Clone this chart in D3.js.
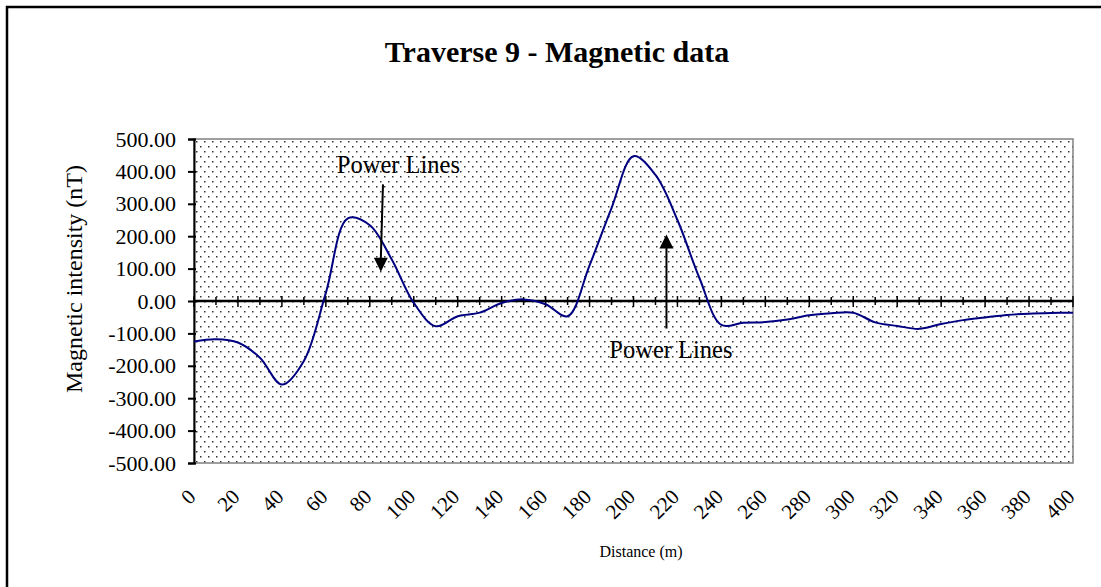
<!DOCTYPE html>
<html>
<head>
<meta charset="utf-8">
<script src="https://cdn.jsdelivr.net/npm/d3@7"></script>
<style>
  body { margin: 0; background: #fff; }
  svg text { font-family: "Liberation Serif", "Times New Roman", serif; fill: #000; }
</style>
</head>
<body>
<svg id="chart" width="1101" height="587"></svg>
<script>
// distance along traverse (m) and magnetic intensity (nT)
let distance = [0, 10, 20, 30, 40, 50, 60, 70, 80, 90, 100, 110, 120, 130, 140, 150, 160, 170, 180, 190, 200,
  210, 220, 230, 240, 250, 260, 270, 280, 290, 300, 310, 320, 330, 340, 350, 360, 370, 380, 390, 400];
let intensity = [-125, -118, -128, -175, -258, -185, 25, 255, 234, 128, -6, -78, -47, -36, -6, 5, -10, -47, 110, 287, 447,
  389, 250, 71, -74, -67, -65, -57, -44, -38, -36, -66, -77, -86, -71, -59, -51, -43, -39, -37, -36];
let yTicks = [-500, -400, -300, -200, -100, 0, 100, 200, 300, 400, 500];
let xTicks = d3.range(0, 401, 20);
let xMinorTicks = d3.range(0, 401, 10);

// two "Power Lines" notes: where the arrow points (distance, nT) and where its tail is
let notes = [
  { label: "Power Lines", tip: [85, 90], tail: [86, 360], text: [65, 395], dir: "down" },
  { label: "Power Lines", tip: [215, 205], tail: [215, -85], text: [189, -175], dir: "up" }
];

let svg = d3.select("svg#chart");

// outer chart frame (right/bottom edges fall outside the picture)
svg.append("rect")
.attr("x", 7).attr("y", 7)
.attr("width", 1200).attr("height", 700)
.attr("fill", "none")
.attr("stroke", "#000")
.attr("stroke-width", 2.5);

var x = d3.scaleLinear().domain([0, 400]).range([194, 1073]);
var y = d3.scaleLinear().domain([-500, 500]).range([463, 139]);

// dotted plot background
var defs = svg.append("defs");
var pat = defs.append("pattern")
.attr("id", "dots")
.attr("patternUnits", "userSpaceOnUse")
.attr("width", 8).attr("height", 10)
.attr("x", 194).attr("y", 139);
pat.append("rect").attr("width", 8).attr("height", 10).attr("fill", "#fff");
pat.append("rect").attr("x", 2).attr("y", 2).attr("width", 1.5).attr("height", 1.5).attr("fill", "#333");
pat.append("rect").attr("x", 6).attr("y", 7).attr("width", 1.5).attr("height", 1.5).attr("fill", "#333");

svg.append("rect")
.attr("x", x(0)).attr("y", y(500))
.attr("width", x(400) - x(0)).attr("height", y(-500) - y(500))
.attr("fill", "url(#dots)")
.attr("stroke", "#808080")
.attr("stroke-width", 1.5);

svg.append("text")
.attr("x", 557).attr("y", 62)
.attr("text-anchor", "middle")
.attr("font-size", 30)
.attr("font-weight", "bold")
.text("Traverse 9 - Magnetic data");

// y axis
var gy = svg.append("g").attr("transform", `translate(${x(0)},0)`);
gy.call(d3.axisLeft(y).tickValues(yTicks).tickSize(6).tickPadding(12).tickFormat(d => d.toFixed(2)));
gy.select(".domain").attr("stroke", "#000").attr("stroke-width", 2);
gy.selectAll(".tick line").attr("stroke-width", 2).attr("x1", 2);
gy.selectAll(".tick text").attr("font-size", 22).style("font-family", "Liberation Serif");

svg.append("text")
.attr("transform", `translate(82,279) rotate(-90)`)
.attr("text-anchor", "middle")
.attr("font-size", 24)
.text("Magnetic intensity (nT)");

// zero line with crossing ticks
var gx = svg.append("g");
gx.append("line")
.attr("x1", x(0)).attr("x2", x(400))
.attr("y1", y(0)).attr("y2", y(0))
.attr("stroke", "#000").attr("stroke-width", 2.5);
gx.selectAll("line.tick")
.data(xMinorTicks)
.enter().append("line")
.attr("class", "tick")
.attr("x1", d => x(d)).attr("x2", d => x(d))
.attr("y1", d => y(0) - (d % 20 ? 4 : 5))
.attr("y2", d => y(0) + (d % 20 ? 4 : 6))
.attr("stroke", "#000").attr("stroke-width", 1.5);

// rotated distance labels under the plot
svg.append("g").selectAll("text")
.data(xTicks)
.enter().append("text")
.attr("transform", d => `translate(${x(d) + 3},498) rotate(-45)`)
.attr("text-anchor", "end")
.attr("font-size", 21)
.text(d => d);

svg.append("text")
.attr("x", 641).attr("y", 557)
.attr("text-anchor", "middle")
.attr("font-size", 16)
.text("Distance (m)");

// data line
var line = d3.line()
.x(d => x(d[0]))
.y(d => y(d[1]))
.curve(d3.curveCatmullRom.alpha(0.5));

svg.append("path")
.datum(distance.map((d, i) => [d, intensity[i]]))
.attr("d", line)
.attr("fill", "none")
.attr("stroke", "#000080")
.attr("stroke-width", 2);

// annotations
notes.forEach(n => {
  let tx = x(n.tip[0]), ty = y(n.tip[1]);
  let s = n.dir === "down" ? -1 : 1;
  svg.append("line")
  .attr("x1", x(n.tail[0])).attr("y1", y(n.tail[1]))
  .attr("x2", tx).attr("y2", ty + s * 12)
  .attr("stroke", "#000").attr("stroke-width", 2);
  svg.append("path")
  .attr("d", `M${tx},${ty} L${tx - 7},${ty + s * 14} L${tx + 7},${ty + s * 14} Z`)
  .attr("fill", "#000");
  svg.append("text")
  .attr("x", x(n.text[0])).attr("y", y(n.text[1]))
  .attr("font-size", 24.5)
  .text(n.label);
});
</script>
</body>
</html>
